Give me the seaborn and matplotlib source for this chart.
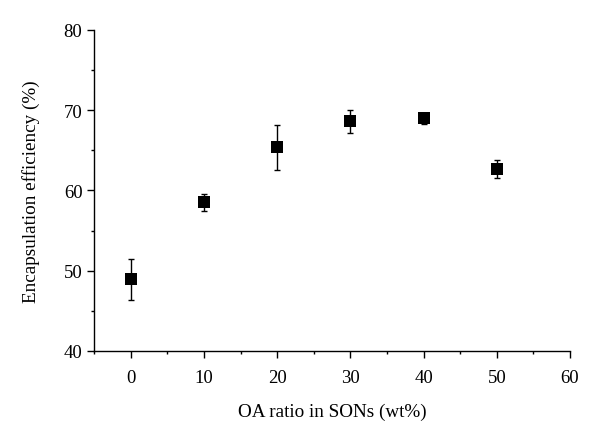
import numpy as np
import pandas as pd
import matplotlib
matplotlib.use('Agg')
import matplotlib.pyplot as plt
import seaborn as sns
from matplotlib.ticker import MultipleLocator

# данные
oa_ratio = [0, 10, 20, 30, 40, 50]
efficiency = [48.9, 58.5, 65.4, 68.6, 69.0, 62.7]
err = [2.6, 1.1, 2.8, 1.4, 0.7, 1.1]

df = pd.DataFrame({'oa': oa_ratio, 'eff': efficiency, 'err': err})

sns.set_style('ticks')
plt.rcParams['font.family'] = ['Liberation Serif', 'DejaVu Serif']

fig, ax = plt.subplots(figsize=(6, 4.35), dpi=100)
fig.subplots_adjust(left=0.157, right=0.95, top=0.929, bottom=0.191)

ax.errorbar(df['oa'], df['eff'], yerr=df['err'], fmt='none', ecolor='black',
            elinewidth=1, capsize=2.5, capthick=1, zorder=2)
sns.scatterplot(data=df, x='oa', y='eff', marker='s', color='black', s=64,
                edgecolor='black', linewidth=0, ax=ax, zorder=3)

ax.set_xlim(-5, 60)
ax.set_ylim(40, 80)
ax.xaxis.set_major_locator(MultipleLocator(10))
ax.xaxis.set_minor_locator(MultipleLocator(5))
ax.yaxis.set_major_locator(MultipleLocator(10))
ax.yaxis.set_minor_locator(MultipleLocator(5))
ax.set_xticks(range(0, 61, 10))

ax.tick_params(which='major', direction='out', length=5, width=1, labelsize=13.5, color='black', labelcolor='black')
ax.tick_params(which='minor', direction='out', length=2.5, width=1, color='black')
ax.tick_params(axis='x', pad=8)

for s in ['top', 'right']:
    ax.spines[s].set_visible(False)
for s in ['left', 'bottom']:
    ax.spines[s].set_color('black')
    ax.spines[s].set_linewidth(1)

ax.set_xlabel('OA ratio in SONs (wt%)', fontsize=13.8, labelpad=12, color='black')
ax.set_ylabel('Encapsulation efficiency (%)', fontsize=13.8, labelpad=17, color='black')

plt.savefig('out.png', dpi=100)
